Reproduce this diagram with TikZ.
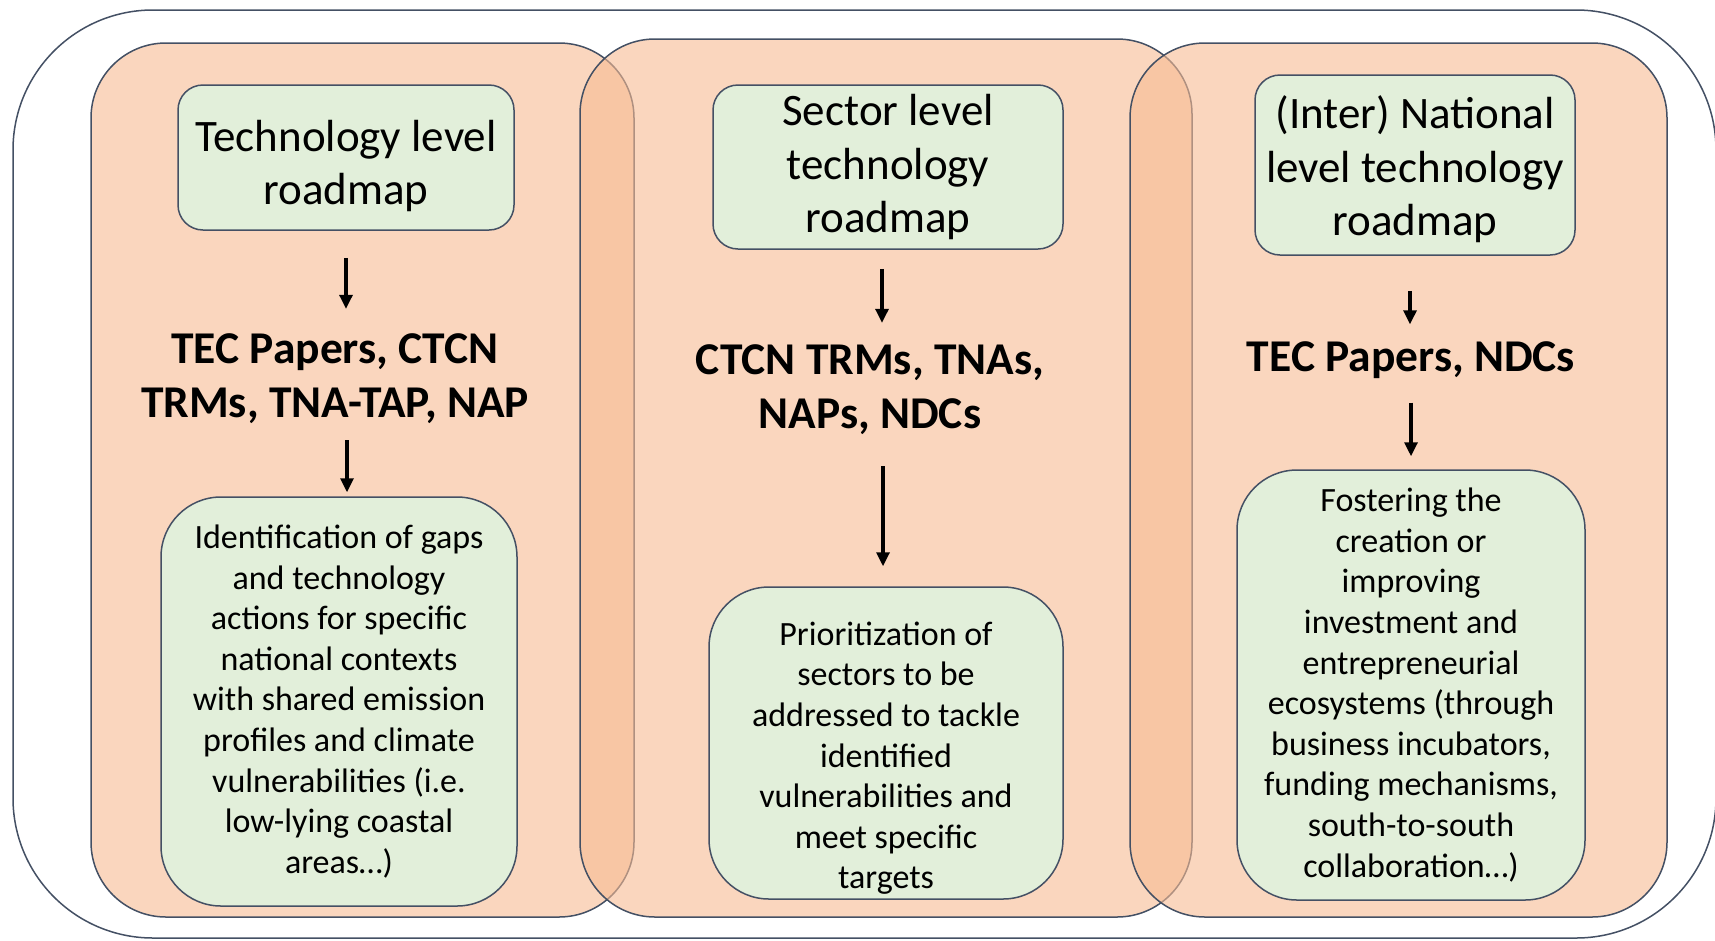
\documentclass[tikz,border=0pt]{standalone}
\usepackage{fontspec}
\setmainfont{Carlito}
\usetikzlibrary{arrows.meta}
\definecolor{peach}{RGB}{247,187,147}
\definecolor{sage}{RGB}{226,239,218}
\definecolor{edge}{RGB}{68,80,100}

\begin{document}
\begin{tikzpicture}[x=1pt,y=-1pt,
  panel/.style={draw=edge, line width=1.5pt, fill=peach, fill opacity=0.6, rounded corners=75pt},
  greenbox/.style={draw=edge, line width=1.5pt, fill=sage, rectangle, align=center, inner sep=0pt},
  topbox/.style={greenbox, rounded corners=25pt, font=\fontsize{45}{53.5}\selectfont},
  lowbox/.style={greenbox, rounded corners=60pt, font=\fontsize{34}{40.6}\selectfont},
  doclabel/.style={align=center, inner sep=0pt, font=\bfseries\fontsize{45.5}{54}\selectfont},
  arr/.style={line width=3.2pt, -{Triangle[length=14pt,width=13pt]}}
]
\clip (0,0) rectangle (1715,940);

% outer frame
\draw[edge, line width=1.5pt, rounded corners=140pt] (13,10) rectangle (1716,938);

% the three overlapping panels
\draw[panel] (91,43) rectangle (634,917);
\draw[panel] (580,39) rectangle (1192,917);
\draw[panel] (1130,43) rectangle (1667,917);

% roadmap levels
\node[topbox, minimum width=336pt, minimum height=145pt] (g1) at (346,157.5) {\rule{0pt}{48pt}Technology level\\roadmap};
\node[topbox, minimum width=350pt, minimum height=164pt] (g2) at (888,167) {Sector level\\technology\\roadmap};
\node[topbox, minimum width=320pt, minimum height=180pt] (g3) at (1415,165) {\rule{0pt}{42pt}(Inter) National\\level technology\\roadmap};

% sources
\node[doclabel] (l1) at (335,379) {TEC Papers, CTCN\\TRMs, TNA-TAP, NAP};
\node[doclabel] (l2) at (870,390) {CTCN TRMs, TNAs,\\NAPs, NDCs};
\node[doclabel] (l3) at (1411,360) {TEC Papers, NDCs};

% outcomes
\node[lowbox, minimum width=356pt, minimum height=409pt] (b1) at (339,701.5)
  {Identification of gaps\\and technology\\actions for specific\\national contexts\\with shared emission\\profiles and climate\\vulnerabilities (i.e.\\low-lying coastal\\areas…)};
\node[lowbox, minimum width=354pt, minimum height=312pt] (b2) at (886,743)
  {\rule{0pt}{54pt}Prioritization of\\sectors to be\\addressed to tackle\\identified\\vulnerabilities and\\meet specific\\targets};
\node[lowbox, minimum width=348pt, minimum height=430pt] (b3) at (1411,685)
  {Fostering the\\creation or\\improving\\investment and\\entrepreneurial\\ecosystems (through\\business incubators,\\funding mechanisms,\\south-to-south\\collaboration…)};

% arrows
\draw[arr, shorten <=27pt, shorten >=25pt] (g1.south) -- (g1.south |- l1.north);
\draw[arr, shorten <=16pt, shorten >=4pt, transform canvas={xshift=8pt}] (b1.north |- l1.south) -- (b1.north);
\draw[arr, shorten <=19pt, shorten >=22pt, transform canvas={xshift=-6pt}] (g2.south) -- (g2.south |- l2.north);
\draw[arr, shorten <=31pt, shorten >=20pt, transform canvas={xshift=-3pt}] (b2.north |- l2.south) -- (b2.north);
\draw[arr, shorten <=35pt, shorten >=17pt, transform canvas={xshift=-5pt}] (g3.south) -- (g3.south |- l3.north);
\draw[arr, shorten <=24pt, shorten >=13pt] (b3.north |- l3.south) -- (b3.north);
\end{tikzpicture}
\end{document}
